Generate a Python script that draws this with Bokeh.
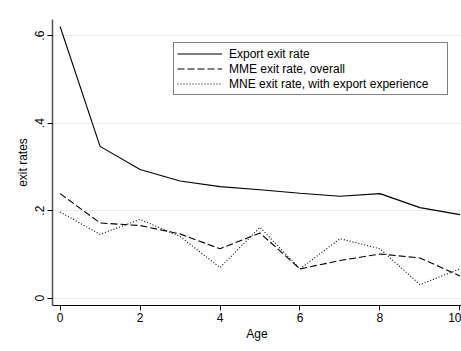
from bokeh.plotting import figure
from bokeh.models import FixedTicker, Legend, LegendItem, Range1d
from bokeh.embed import file_html
from bokeh.resources import INLINE

age = [0, 1, 2, 3, 4, 5, 6, 7, 8, 9, 10]
export_exit = [0.621, 0.347, 0.294, 0.268, 0.255, 0.248, 0.240, 0.233, 0.239, 0.207, 0.191]
mme_exit = [0.239, 0.172, 0.166, 0.147, 0.113, 0.149, 0.067, 0.086, 0.101, 0.092, 0.051]
mne_exit = [0.197, 0.146, 0.180, 0.141, 0.070, 0.162, 0.067, 0.136, 0.113, 0.031, 0.067]

series_names = ["Export exit rate", "MME exit rate, overall", "MNE exit rate, with export experience"]
x_ticks = [0, 2, 4, 6, 8, 10]
y_ticks = [0, 0.2, 0.4, 0.6]
y_tick_labels = ["0", ".2", ".4", ".6"]

FONT = "Liberation Sans"

p = figure(width=461, height=351, output_backend="svg", toolbar_location=None,
           x_range=Range1d(-0.19, 10.04), y_range=Range1d(-0.0167, 0.637),
           min_border_left=52, min_border_top=19, min_border_bottom=46, min_border_right=0,
           x_axis_label="Age", y_axis_label="exit rates")
p.outline_line_color = None
p.background_fill_color = "white"
p.border_fill_color = "white"

r1 = p.line(age, export_exit, line_color="black", line_width=1.1)
r2 = p.line(age, mme_exit, line_color="black", line_width=1.1, line_dash="7 3")
r3 = p.line(age, mne_exit, line_color="black", line_width=1.1, line_dash="1 2")

p.xgrid.grid_line_color = None
p.ygrid.grid_line_color = "#e6eef0"
p.ygrid.grid_line_width = 1
p.ygrid.ticker = FixedTicker(ticks=y_ticks)

p.xaxis.ticker = FixedTicker(ticks=x_ticks)
p.yaxis.ticker = FixedTicker(ticks=y_ticks)
p.yaxis.major_label_overrides = {t: l for t, l in zip(y_ticks, y_tick_labels)}
p.yaxis.major_label_orientation = "vertical"

for ax in (p.xaxis[0], p.yaxis[0]):
    ax.axis_line_color = "black"
    ax.axis_line_width = 1
    ax.major_tick_line_color = "black"
    ax.major_tick_in = 0
    ax.major_tick_out = 5
    ax.minor_tick_line_color = None
    ax.major_label_text_font = FONT
    ax.major_label_text_font_size = "12px"
    ax.major_label_text_color = "black"
    ax.axis_label_text_font = FONT
    ax.axis_label_text_font_size = "12px"
    ax.axis_label_text_font_style = "normal"
    ax.axis_label_text_color = "black"

p.yaxis.axis_line_color = "#555555"
p.yaxis.axis_line_width = 1.5
p.xaxis.major_label_standoff = 2
p.xaxis.axis_label_standoff = 2
p.yaxis.major_label_standoff = 3
p.yaxis.axis_label_standoff = 3

legend = Legend(items=[LegendItem(label=series_names[0], renderers=[r1]),
                       LegendItem(label=series_names[1], renderers=[r2]),
                       LegendItem(label=series_names[2], renderers=[r3])],
                location=(121, 210))
legend.margin = 0
legend.padding = 3
legend.spacing = 0
legend.glyph_width = 45
legend.glyph_height = 15
legend.label_height = 15
legend.label_width = 215
legend.label_standoff = 7
legend.label_text_font = FONT
legend.label_text_font_size = "12px"
legend.label_text_color = "black"
legend.border_line_color = "black"
legend.border_line_width = 1
legend.background_fill_color = "white"
legend.background_fill_alpha = 1
p.add_layout(legend, "center")

open("out.html", "w").write(file_html(p, INLINE))
